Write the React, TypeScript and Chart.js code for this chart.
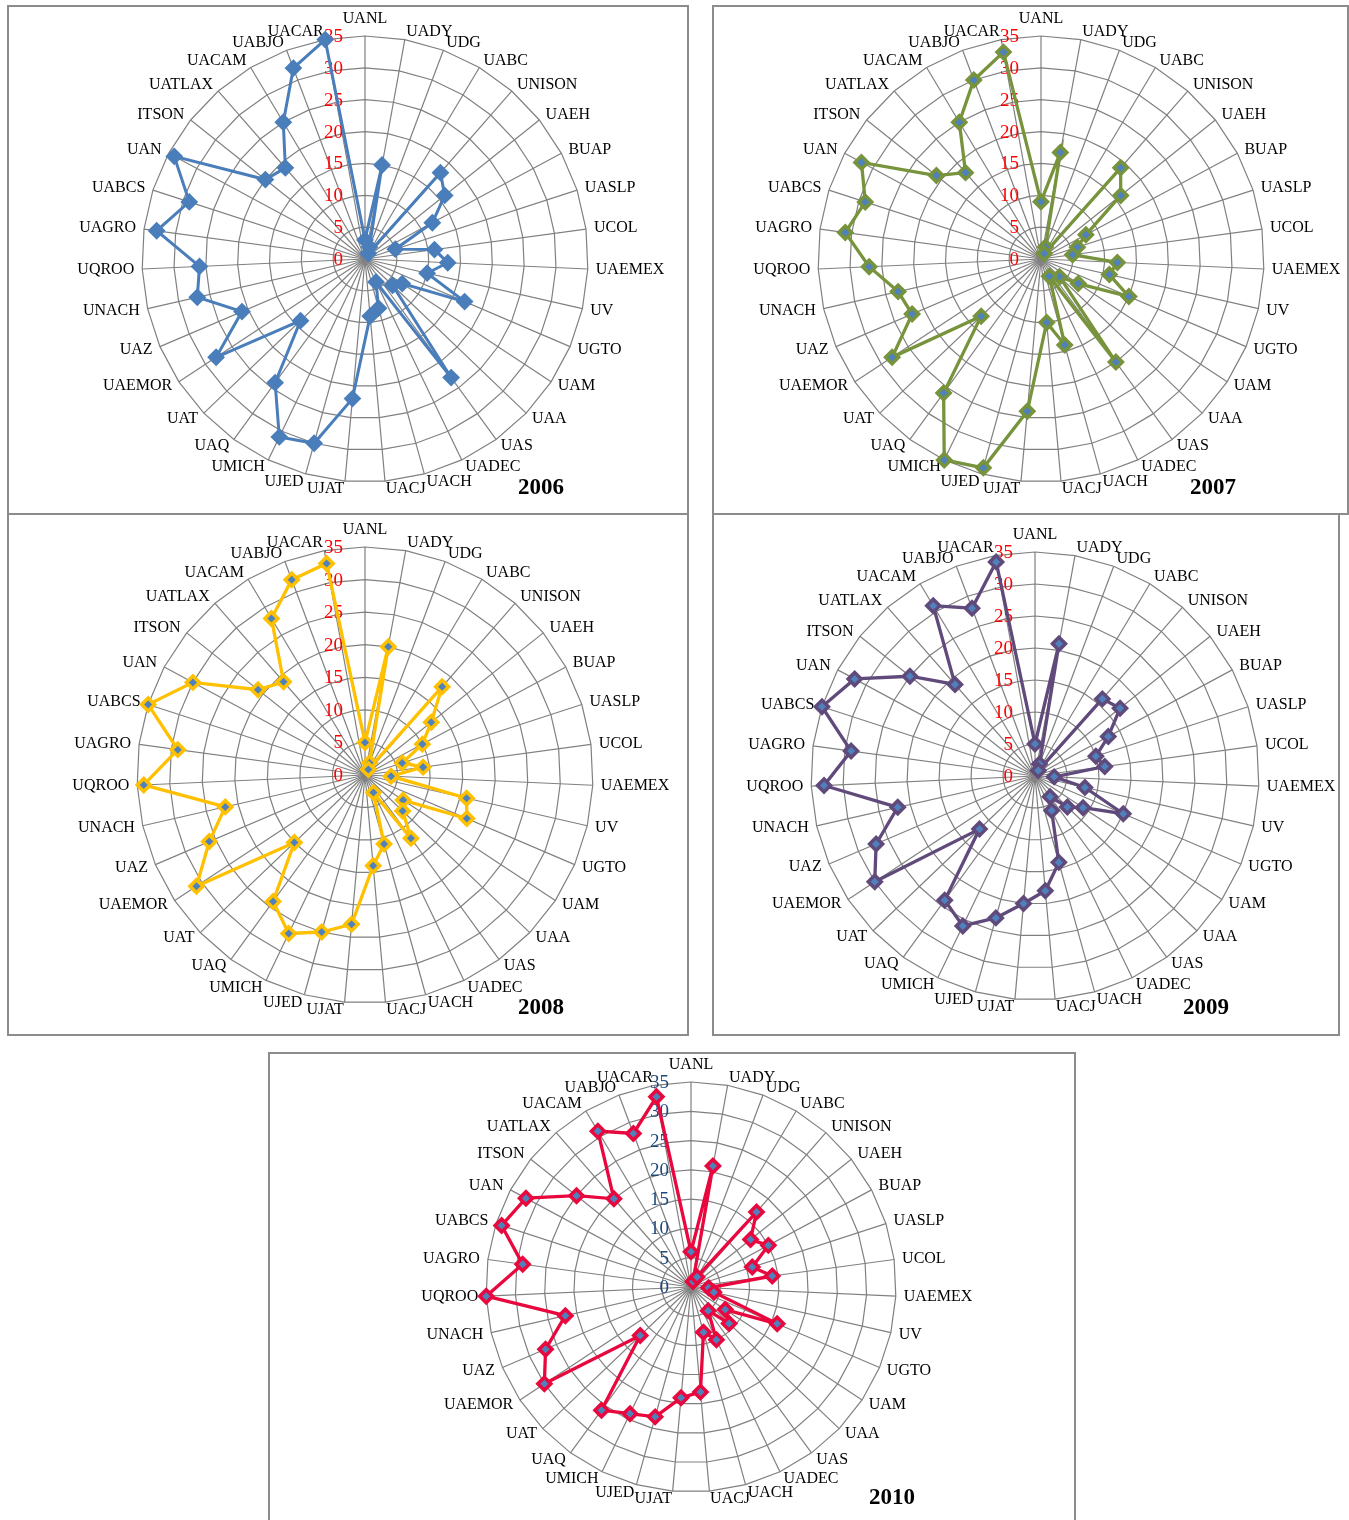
import React, { useEffect, useRef } from "react";
import { Chart, registerables } from "chart.js";

Chart.register(...registerables);

const CATEGORIES = [
  "UANL", "UADY", "UDG", "UABC", "UNISON", "UAEH", "BUAP", "UASLP", "UCOL", "UAEMEX",
  "UV", "UGTO", "UAM", "UAA", "UAS", "UADEC", "UACH", "UACJ", "UJAT", "UJED",
  "UMICH", "UAQ", "UAT", "UAEMOR", "UAZ", "UNACH", "UQROO", "UAGRO", "UABCS", "UAN",
  "ITSON", "UATLAX", "UACAM", "UABJO", "UACAR",
];

const VALUES_2006 = [3, 15, 2, 1, 18, 16, 12, 5, 11, 13, 10, 17, 7, 6, 23, 4, 8, 9, 22, 30, 31, 24, 14, 28, 21, 27, 26, 33, 29, 34, 20, 19, 25, 32, 35];
const VALUES_2007 = [9, 17, 2, 1, 19, 16, 8, 6, 5, 12, 11, 15, 7, 4, 20, 3, 14, 10, 24, 34, 35, 26, 13, 28, 22, 23, 27, 31, 29, 32, 21, 18, 25, 30, 33];
const VALUES_2008 = [5, 20, 2, 1, 18, 13, 10, 6, 9, 4, 16, 17, 7, 8, 12, 3, 11, 14, 23, 25, 27, 24, 15, 31, 26, 22, 34, 29, 35, 30, 21, 19, 28, 32, 33];
const VALUES_2009 = [5, 21, 2, 1, 16, 17, 13, 10, 11, 3, 8, 15, 9, 7, 4, 6, 14, 18, 20, 23, 26, 24, 12, 30, 27, 22, 33, 29, 35, 32, 25, 19, 31, 28, 34];
const VALUES_2010 = [6, 21, 1, 2, 17, 13, 15, 11, 14, 3, 4, 16, 7, 9, 5, 10, 8, 18, 19, 23, 24, 26, 12, 30, 27, 22, 35, 29, 34, 32, 25, 20, 31, 28, 33];

const TICKS = [0, 5, 10, 15, 20, 25, 30, 35];
const YEARS = ["2006", "2007", "2008", "2009", "2010"];

const MARKER_FILL = "#4F81BD";
const GRID = "#808080";
const SERIF = '"Liberation Serif", "Times New Roman", serif';

type Panel = {
  year: string;
  values: number[];
  box: [number, number, number, number];
  cx: number;
  cy: number;
  R: number;
  color: string;
  solid: boolean;
  tickColor: string;
  tx: number;
  ty: number;
};

const PANELS: Panel[] = [
  { year: YEARS[0], values: VALUES_2006, box: [7, 5, 682, 510], cx: 365, cy: 259, R: 223, color: "#4A7EBB", solid: true, tickColor: "#FF0000", tx: 541, ty: 487 },
  { year: YEARS[1], values: VALUES_2007, box: [712, 5, 637, 510], cx: 1041, cy: 259, R: 223, color: "#77933C", solid: false, tickColor: "#FF0000", tx: 1213, ty: 487 },
  { year: YEARS[2], values: VALUES_2008, box: [7, 513, 682, 523], cx: 365, cy: 775, R: 228, color: "#FFC000", solid: false, tickColor: "#FF0000", tx: 541, ty: 1007 },
  { year: YEARS[3], values: VALUES_2009, box: [712, 513, 628, 523], cx: 1035, cy: 776, R: 224, color: "#604A7B", solid: false, tickColor: "#FF0000", tx: 1206, ty: 1007 },
  { year: YEARS[4], values: VALUES_2010, box: [268, 1052, 808, 475], cx: 691, cy: 1287, R: 205, color: "#E8083E", solid: false, tickColor: "#1F497D", tx: 892, ty: 1497 },
];

const BORDER = 2;

function RadarPanel({ p }: { p: Panel }) {
  const ref = useRef<HTMLCanvasElement>(null);
  const [bx, by, bw, bh] = p.box;
  const left = bx + BORDER;
  const top = by + BORDER;
  const cw = bw - 2 * BORDER;
  const ch = bh - 2 * BORDER;

  useEffect(() => {
    if (!ref.current) return;
    const padL = p.cx - p.R - left;
    const padT = p.cy - p.R - top;
    const padR = cw - padL - 2 * p.R;
    const padB = ch - padT - 2 * p.R;

    const labelsPlugin = {
      id: "excelLabels",
      beforeDatasetsDraw(chart: any) {
        const s = chart.scales.r;
        const ctx = chart.ctx;
        ctx.save();
        // radial tick labels (left of the vertical axis)
        ctx.font = `19px ${SERIF}`;
        ctx.fillStyle = p.tickColor;
        ctx.textAlign = "right";
        ctx.textBaseline = "middle";
        TICKS.forEach((v) => {
          const d = s.getDistanceFromCenterForValue(v);
          ctx.fillText(String(v), s.xCenter - 22, s.yCenter - d + 1);
        });
        // category labels
        ctx.font = `16px ${SERIF}`;
        ctx.fillStyle = "#000000";
        const n = CATEGORIES.length;
        CATEGORIES.forEach((c, i) => {
          const ang = (i * 360) / n;
          if (i === 0) {
            const pos = s.getPointPosition(i, s.drawingArea + 9);
            ctx.textAlign = "center";
            ctx.textBaseline = "bottom";
            ctx.fillText(c, pos.x, pos.y);
          } else {
            const pos = s.getPointPosition(i, s.drawingArea + 8);
            ctx.textAlign = ang < 180 ? "left" : "right";
            ctx.textBaseline = "middle";
            ctx.fillText(c, pos.x, pos.y);
          }
        });
        ctx.restore();
      },
    };

    const chart = new Chart(ref.current, {
      type: "radar",
      data: {
        labels: CATEGORIES,
        datasets: [
          {
            label: p.year,
            data: p.values,
            borderColor: p.color,
            borderWidth: p.solid ? 3 : 3.3,
            backgroundColor: "rgba(0,0,0,0)",
            fill: false,
            tension: 0,
            pointStyle: "rectRot",
            pointRadius: p.solid ? 7.5 : 6.5,
            pointHoverRadius: p.solid ? 7.5 : 6.5,
            pointBackgroundColor: p.solid ? p.color : MARKER_FILL,
            pointBorderColor: p.color,
            pointBorderWidth: p.solid ? 2 : 3.5,
          },
        ],
      },
      options: {
        responsive: false,
        animation: false,
        devicePixelRatio: 1,
        layout: { padding: { left: padL, right: padR, top: padT, bottom: padB } },
        plugins: {
          legend: { display: false },
          title: { display: false },
          tooltip: { enabled: false },
        },
        scales: {
          r: {
            min: TICKS[0],
            max: TICKS[TICKS.length - 1],
            ticks: { display: false, stepSize: TICKS[1] - TICKS[0] },
            grid: { color: GRID, lineWidth: 1.2 },
            angleLines: { color: GRID, lineWidth: 1.2 },
            pointLabels: { display: false },
          },
        },
      } as any,
      plugins: [labelsPlugin],
    });
    return () => chart.destroy();
  }, []);

  return (
    <>
      <div
        style={{
          position: "absolute",
          left: bx,
          top: by,
          width: bw,
          height: bh,
          boxSizing: "border-box",
          border: `${BORDER}px solid #8C8C8C`,
          background: "#FFFFFF",
        }}
      />
      <canvas
        ref={ref}
        width={cw}
        height={ch}
        style={{ position: "absolute", left, top, width: cw, height: ch }}
      />
      <div
        style={{
          position: "absolute",
          left: p.tx - 50,
          top: p.ty - 14,
          width: 100,
          height: 28,
          lineHeight: "28px",
          textAlign: "center",
          fontFamily: SERIF,
          fontWeight: "bold",
          fontSize: 23,
          color: "#000",
        }}
      >
        {p.year}
      </div>
    </>
  );
}

export default function App() {
  return (
    <div
      style={{
        position: "absolute",
        left: 0,
        top: 0,
        width: 1349,
        height: 1520,
        overflow: "hidden",
        background: "#FFFFFF",
      }}
    >
      {PANELS.map((p) => (
        <RadarPanel key={p.year} p={p} />
      ))}
    </div>
  );
}
